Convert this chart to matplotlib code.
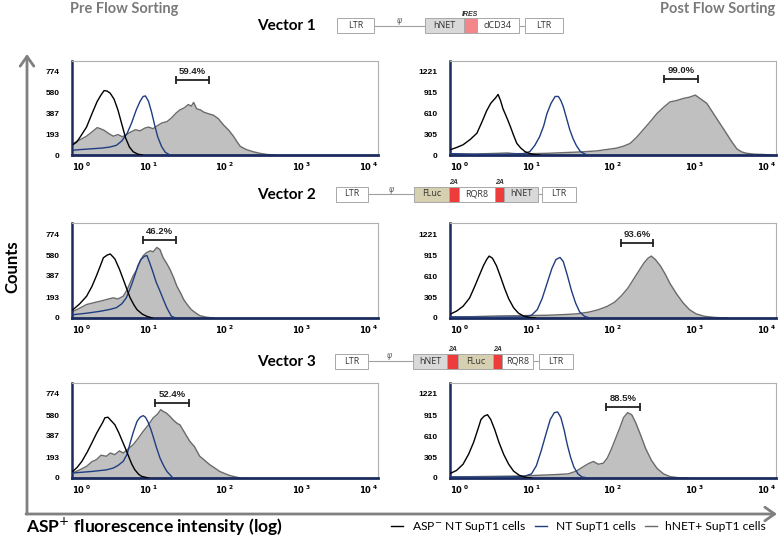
import numpy as np
import matplotlib
matplotlib.use("Agg")
import matplotlib.pyplot as plt
from matplotlib.patches import Rectangle, FancyArrowPatch

# ---------------- data (x given as log10 fluorescence, y = counts) ----------------
series_names = ["ASP$^{-}$ NT SupT1 cells", "NT SupT1 cells", "hNET+ SupT1 cells"]
panel_titles = ["Vector 1", "Vector 2", "Vector 3"]
left_yticks = [0, 193, 387, 580, 774]
right_yticks = [0, 305, 610, 915, 1221]
x_decades = [0, 1, 2, 3, 4]

# Vector 1 - pre sorting
v1pre_black_x = [0.02, 0.06, 0.1, 0.19, 0.27, 0.33, 0.38, 0.42, 0.46, 0.5, 0.55, 0.6, 0.65, 0.7, 0.75, 0.8, 0.86, 0.92]
v1pre_black_y = [100, 120, 160, 260, 400, 500, 560, 600, 595, 575, 520, 420, 290, 160, 75, 30, 8, 0]
v1pre_blue_x = [0.02, 0.1, 0.2, 0.3, 0.4, 0.5, 0.58, 0.65, 0.72, 0.78, 0.84, 0.89, 0.93, 0.96, 1.0, 1.04, 1.08, 1.12, 1.17, 1.22, 1.28]
v1pre_blue_y = [45, 50, 55, 60, 65, 75, 90, 130, 200, 300, 420, 500, 545, 550, 500, 400, 280, 170, 80, 25, 0]
v1pre_gray_x = [0.02, 0.1, 0.19, 0.27, 0.33, 0.37, 0.42, 0.48, 0.54, 0.6, 0.66, 0.71, 0.77, 0.83, 0.89, 0.95, 1.0, 1.06, 1.12, 1.18, 1.24, 1.3, 1.36, 1.41, 1.47, 1.52, 1.56, 1.59, 1.63, 1.68, 1.72, 1.78, 1.85, 1.91, 1.98, 2.05, 2.11, 2.16, 2.2, 2.28, 2.37, 2.46, 2.55, 2.65]
v1pre_gray_y = [110, 140, 175, 220, 255, 245, 230, 200, 175, 190, 170, 190, 215, 235, 225, 250, 260, 245, 275, 300, 310, 345, 390, 420, 440, 470, 455, 490, 430, 420, 400, 385, 370, 340, 280, 230, 175, 120, 80, 50, 30, 15, 5, 0]

# Vector 1 - post sorting
v1post_black_x = [0.01, 0.08, 0.16, 0.25, 0.33, 0.39, 0.45, 0.5, 0.53, 0.56, 0.59, 0.62, 0.65, 0.7, 0.74, 0.78, 0.82, 0.87, 0.92, 0.97, 1.02, 1.1]
v1post_black_y = [80, 110, 150, 230, 320, 480, 650, 760, 800, 840, 890, 800, 680, 540, 420, 290, 170, 100, 50, 25, 10, 0]
v1post_blue_x = [0.01, 0.3, 0.6, 0.9, 0.98, 1.04, 1.1, 1.15, 1.19, 1.24, 1.29, 1.33, 1.36, 1.39, 1.43, 1.47, 1.51, 1.55, 1.6, 1.68]
v1post_blue_y = [20, 10, 8, 20, 50, 140, 270, 430, 610, 760, 860, 860, 800, 710, 540, 370, 240, 140, 50, 0]
v1post_gray_x = [0.01, 0.3, 0.6, 0.7, 0.8, 1.0, 1.2, 1.4, 1.6, 1.8, 1.95, 2.04, 2.13, 2.21, 2.29, 2.37, 2.45, 2.54, 2.62, 2.7, 2.78, 2.86, 2.94, 3.01, 3.08, 3.15, 3.21, 3.27, 3.33, 3.39, 3.46, 3.52, 3.58, 3.64, 3.74, 3.84, 3.95]
v1post_gray_y = [15, 15, 25, 30, 20, 20, 25, 35, 45, 60, 85, 100, 130, 170, 260, 370, 480, 610, 700, 780, 800, 830, 850, 880, 820, 760, 650, 540, 430, 320, 190, 90, 45, 25, 12, 8, 0]

# Vector 2 - pre sorting
v2pre_black_x = [0.01, 0.1, 0.19, 0.26, 0.32, 0.37, 0.41, 0.46, 0.5, 0.56, 0.62, 0.67, 0.72, 0.76, 0.81, 0.85, 0.92, 0.98, 1.05]
v2pre_black_y = [75, 130, 200, 290, 390, 480, 555, 580, 590, 545, 450, 356, 260, 186, 120, 77, 35, 15, 0]
v2pre_blue_x = [0.01, 0.2, 0.37, 0.5, 0.58, 0.65, 0.71, 0.77, 0.82, 0.86, 0.9, 0.95, 0.98, 1.02, 1.06, 1.1, 1.15, 1.2, 1.24, 1.3, 1.36]
v2pre_blue_y = [30, 45, 62, 80, 95, 130, 186, 290, 390, 480, 540, 570, 575, 500, 418, 330, 248, 160, 93, 15, 0]
v2pre_gray_x = [0.01, 0.1, 0.19, 0.28, 0.37, 0.45, 0.54, 0.6, 0.67, 0.72, 0.76, 0.8, 0.85, 0.89, 0.93, 0.97, 1.02, 1.06, 1.11, 1.15, 1.19, 1.24, 1.28, 1.33, 1.37, 1.42, 1.46, 1.51, 1.56, 1.62, 1.67, 1.75, 1.85]
v2pre_gray_y = [60, 90, 124, 140, 155, 170, 186, 175, 201, 260, 325, 390, 449, 520, 573, 600, 619, 610, 650, 630, 557, 500, 449, 370, 294, 230, 170, 120, 77, 45, 22, 8, 0]

# Vector 2 - post sorting
v2post_black_x = [0.01, 0.08, 0.16, 0.24, 0.3, 0.36, 0.41, 0.45, 0.48, 0.52, 0.57, 0.62, 0.67, 0.72, 0.78, 0.84, 0.9, 0.97, 1.05]
v2post_black_y = [60, 100, 170, 290, 450, 620, 760, 850, 900, 870, 760, 600, 430, 280, 150, 70, 30, 10, 0]
v2post_blue_x = [0.01, 0.5, 0.9, 1.0, 1.07, 1.13, 1.19, 1.25, 1.3, 1.35, 1.39, 1.44, 1.49, 1.54, 1.59, 1.65, 1.72]
v2post_blue_y = [15, 10, 15, 40, 120, 280, 500, 720, 850, 880, 820, 620, 400, 220, 90, 25, 0]
v2post_gray_x = [0.01, 0.3, 0.6, 0.9, 1.2, 1.4, 1.55, 1.7, 1.82, 1.93, 2.02, 2.1, 2.18, 2.25, 2.32, 2.38, 2.43, 2.47, 2.52, 2.58, 2.64, 2.7, 2.78, 2.86, 2.94, 3.02, 3.12, 3.25, 3.4]
v2post_gray_y = [15, 20, 30, 35, 40, 50, 60, 85, 120, 170, 230, 320, 430, 560, 690, 800, 870, 900, 850, 760, 640, 500, 350, 220, 120, 60, 25, 8, 0]

# Vector 3 - pre sorting
v3pre_black_x = [0.01, 0.07, 0.13, 0.2, 0.27, 0.32, 0.36, 0.4, 0.43, 0.47, 0.5, 0.56, 0.61, 0.65, 0.7, 0.74, 0.78, 0.82, 0.87, 0.91, 1.0]
v3pre_black_y = [60, 100, 154, 240, 338, 410, 461, 510, 555, 560, 537, 491, 420, 353, 270, 200, 130, 77, 35, 15, 0]
v3pre_blue_x = [0.01, 0.27, 0.45, 0.54, 0.6, 0.67, 0.72, 0.76, 0.8, 0.85, 0.89, 0.93, 0.96, 0.99, 1.03, 1.06, 1.1, 1.15, 1.2, 1.24, 1.32]
v3pre_blue_y = [46, 61, 75, 92, 115, 154, 220, 322, 420, 522, 560, 575, 560, 522, 450, 384, 290, 184, 110, 61, 0]
v3pre_gray_x = [0.01, 0.1, 0.19, 0.26, 0.32, 0.38, 0.45, 0.5, 0.56, 0.62, 0.67, 0.73, 0.8, 0.87, 0.93, 1.0, 1.06, 1.12, 1.16, 1.19, 1.23, 1.28, 1.33, 1.38, 1.41, 1.47, 1.54, 1.6, 1.67, 1.73, 1.8, 1.87, 1.93, 2.0, 2.07, 2.2]
v3pre_gray_y = [46, 75, 107, 150, 169, 210, 200, 230, 215, 250, 230, 265, 307, 370, 430, 490, 553, 590, 630, 614, 600, 568, 530, 500, 491, 420, 338, 290, 200, 165, 123, 90, 61, 40, 21, 0]

# Vector 3 - post sorting
v3post_black_x = [0.01, 0.08, 0.16, 0.23, 0.29, 0.34, 0.38, 0.42, 0.46, 0.5, 0.55, 0.6, 0.66, 0.72, 0.78, 0.85, 0.92, 1.0]
v3post_black_y = [70, 110, 200, 350, 520, 700, 850, 900, 920, 850, 700, 520, 340, 200, 100, 40, 12, 0]
v3post_blue_x = [0.01, 0.5, 0.9, 1.0, 1.06, 1.12, 1.18, 1.23, 1.28, 1.32, 1.36, 1.4, 1.44, 1.48, 1.52, 1.57, 1.62, 1.7]
v3post_blue_y = [15, 10, 20, 60, 180, 400, 650, 850, 950, 960, 880, 700, 480, 300, 160, 60, 15, 0]
v3post_gray_x = [0.01, 0.3, 0.6, 0.9, 1.1, 1.3, 1.45, 1.55, 1.63, 1.7, 1.76, 1.82, 1.88, 1.93, 1.98, 2.03, 2.08, 2.13, 2.18, 2.23, 2.28, 2.34, 2.4, 2.47, 2.54, 2.62, 2.7, 2.8, 2.92]
v3post_gray_y = [15, 20, 25, 30, 40, 50, 60, 100, 160, 210, 240, 200, 215, 290, 420, 570, 720, 880, 950, 920, 800, 620, 430, 260, 140, 60, 20, 5, 0]

# sorting gates (percent, log10 lower, log10 upper, height in counts)
gate_pct = ["59.4%", "99.0%", "46.2%", "93.6%", "52.4%", "88.5%"]
gate_lo = [1.36, 2.63, 0.93, 2.10, 1.08, 1.91]
gate_hi = [1.79, 3.04, 1.36, 2.49, 1.53, 2.33]
gate_y = [700, 1120, 715, 1085, 690, 1030]

# ---------------- figure ----------------
W, H = 778, 538
fig = plt.figure(figsize=(W / 100, H / 100), dpi=100)

over = fig.add_axes([0, 0, 1, 1])
over.set_xlim(0, W)
over.set_ylim(H, 0)
over.axis("off")

NAVY = "#1c2b5e"
BLUE = "#1f3d80"
GRAYLINE = "#6a6a6a"
GRAYFILL = "#c0c0c0"

col_x = [(72, 378), (450, 776)]
row_y = [(61, 155), (223, 318), (383, 478)]

panels = [
    (v1pre_black_x, v1pre_black_y, v1pre_blue_x, v1pre_blue_y, v1pre_gray_x, v1pre_gray_y),
    (v1post_black_x, v1post_black_y, v1post_blue_x, v1post_blue_y, v1post_gray_x, v1post_gray_y),
    (v2pre_black_x, v2pre_black_y, v2pre_blue_x, v2pre_blue_y, v2pre_gray_x, v2pre_gray_y),
    (v2post_black_x, v2post_black_y, v2post_blue_x, v2post_blue_y, v2post_gray_x, v2post_gray_y),
    (v3pre_black_x, v3pre_black_y, v3pre_blue_x, v3pre_blue_y, v3pre_gray_x, v3pre_gray_y),
    (v3post_black_x, v3post_black_y, v3post_blue_x, v3post_blue_y, v3post_gray_x, v3post_gray_y),
]

handles = None
for i, (bx, by, ux, uy, gx, gy) in enumerate(panels):
    r, c = divmod(i, 2)
    x0, x1 = col_x[c]
    y0, y1 = row_y[r]
    ax = fig.add_axes([x0 / W, 1 - y1 / H, (x1 - x0) / W, (y1 - y0) / H])
    ax.set_xscale("log")
    ax.set_xlim(10 ** x_decades[0], 10 ** x_decades[-1])
    ticks = left_yticks if c == 0 else right_yticks
    ax.set_ylim(0, ticks[-1] * 95 / 84)

    gxv = 10 ** np.array(gx)
    ax.fill_between(gxv, 0, gy, color=GRAYFILL, lw=0, zorder=1)
    lg, = ax.plot(gxv, gy, color=GRAYLINE, lw=1.0, zorder=2)
    lu, = ax.plot(10 ** np.array(ux), uy, color=BLUE, lw=1.0, zorder=3)
    lb, = ax.plot(10 ** np.array(bx), by, color="black", lw=1.0, zorder=4)
    if handles is None:
        handles = [lb, lu, lg]

    # gate
    lo, hi, gyv = 10 ** gate_lo[i], 10 ** gate_hi[i], gate_y[i]
    ax.plot([lo, hi], [gyv, gyv], color="#222222", lw=1.3, zorder=5)
    ax.plot([lo, hi], [gyv, gyv], ls="none", marker="|", ms=6, mew=1.3, color="#222222", zorder=5)
    ax.annotate(gate_pct[i], xy=(np.sqrt(lo * hi), gyv), xytext=(0, 3), textcoords="offset points",
                ha="center", va="bottom", fontsize=6.8, fontweight="bold", family="Liberation Sans",
                color="#222222")

    ax.set_yticks(ticks)
    ax.set_yticklabels([str(t) for t in ticks], fontsize=6, fontweight="bold", family="Liberation Sans")
    ax.set_xticks([10 ** d for d in x_decades])
    ax.set_xticklabels([r"$\mathbf{10}^{\ \mathbf{%d}}$" % d for d in x_decades], fontsize=6)
    xtl = ax.get_xticklabels()
    xtl[0].set_ha("left")
    xtl[-1].set_ha("right")
    ax.minorticks_off()
    ax.tick_params(axis="both", length=0)
    ax.tick_params(axis="y", pad=9)
    ax.tick_params(axis="x", pad=4)
    for s in ("top", "right"):
        ax.spines[s].set_color("#b0b0b0")
        ax.spines[s].set_linewidth(0.8)
    ax.spines["bottom"].set_color(NAVY)
    ax.spines["bottom"].set_linewidth(2.0)
    ax.spines["left"].set_color(NAVY)
    ax.spines["left"].set_linewidth(1.8)
    ax.patch.set_alpha(0)

# ---------------- titles / labels ----------------
over.text(70, 9, "Pre Flow Sorting", fontsize=10.5, fontweight="bold", color="#7a7a7a",
          family="Lato", ha="left", va="center")
over.text(775, 9, "Post Flow Sorting", fontsize=10.5, fontweight="bold", color="#7a7a7a",
          family="Lato", ha="right", va="center")
over.text(12, 267, "Counts", fontsize=12, fontweight="bold", rotation=90, ha="center", va="center",
          family="Lato")
over.text(26, 527, r"ASP$^{+}$ fluorescence intensity (log)", fontsize=12.5, fontweight="bold",
          ha="left", va="center", family="Lato")

# big axis arrows
arr_kw = dict(arrowstyle="->,head_length=0.5,head_width=0.35", color="#808080", lw=2,
              mutation_scale=14, transform=over.transData, shrinkA=0, shrinkB=0)
over.add_patch(FancyArrowPatch((27, 514), (27, 54), **arr_kw))
over.add_patch(FancyArrowPatch((26, 514), (777, 514), **arr_kw))

# ---------------- vector maps ----------------
vec_boxes = [
    [("LTR", 337, 374, "white"), ("hNET", 425, 464, "#d9d9d9"), ("", 464, 477, "#f4858a"),
     ("dCD34", 477, 519, "white"), ("LTR", 525, 563, "white")],
    [("LTR", 336, 368, "white"), ("FLuc", 414, 449, "#d7d0b0"), ("", 449, 459, "#ee3b3b"),
     ("RQR8", 459, 495, "white"), ("", 495, 504, "#ee3b3b"), ("hNET", 504, 538, "#d9d9d9"),
     ("LTR", 542, 576, "white")],
    [("LTR", 335, 368, "white"), ("hNET", 413, 447, "#d9d9d9"), ("", 447, 458, "#ee3b3b"),
     ("FLuc", 458, 493, "#d7d0b0"), ("", 493, 502, "#ee3b3b"), ("RQR8", 502, 533, "white"),
     ("LTR", 539, 573, "white")],
]
vec_yc = [25.5, 194, 361]
vec_psi_x = [400, 392, 390]
vec_tags = [["IRES"], ["2A", "2A"], ["2A", "2A"]]
box_h = 15

for k, boxes in enumerate(vec_boxes):
    yc = vec_yc[k]
    over.text(316, yc + 1, panel_titles[k], fontsize=11, fontweight="bold", ha="right", va="center",
              family="Lato")
    over.plot([boxes[0][2], boxes[-1][1]], [yc, yc], color="#a0a0a0", lw=0.8, zorder=1)
    over.text(vec_psi_x[k], yc - 4, r"$\psi$", fontsize=5.5, ha="center", va="center", color="#555555")
    tags = iter(vec_tags[k])
    for lab, xa, xb, fc in boxes:
        over.add_patch(Rectangle((xa, yc - box_h / 2), xb - xa, box_h, facecolor=fc,
                                 edgecolor="#a8a8a8", lw=0.7, zorder=2))
        if lab:
            over.text((xa + xb) / 2, yc, lab, fontsize=6.5, ha="center", va="center",
                      color="#333333", family="Open Sans", zorder=3)
        else:
            over.text((xa + xb) / 2, yc - box_h / 2 - 0.5, next(tags), fontsize=5, fontweight="bold",
                      style="italic", ha="center", va="bottom", color="#333333", family="Liberation Sans")

# ---------------- legend ----------------
fig.legend(handles, series_names, loc="center right", bbox_to_anchor=(772 / W, 1 - 527 / H),
           ncol=3, frameon=False, handlelength=1.0, handletextpad=0.7, borderpad=0,
           columnspacing=0.75, prop={"family": "Lato", "size": 8.7})

fig.savefig("out.png", dpi=100)
